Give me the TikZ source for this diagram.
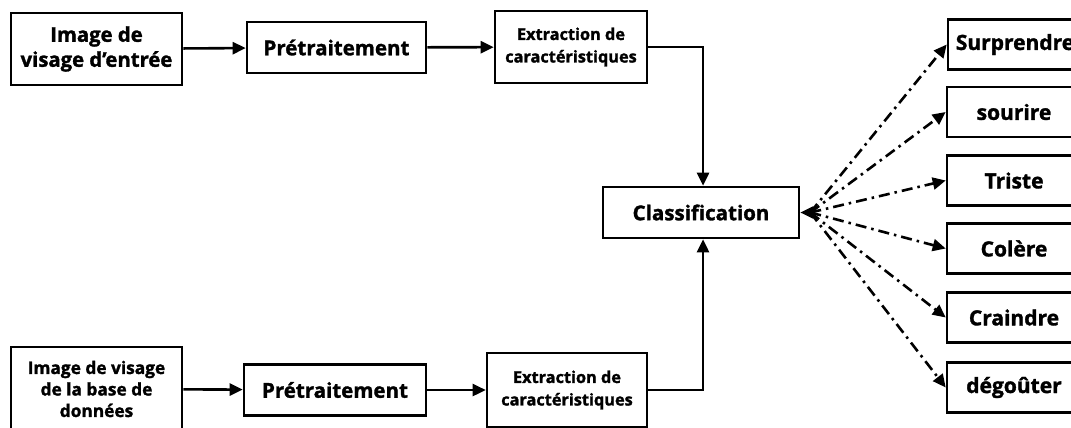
\documentclass[tikz,border=0pt]{standalone}
\usepackage{fontspec}
\setmainfont{Open Sans}[BoldFont={* Bold}, BoldFeatures={FakeBold=1.5}]
\usetikzlibrary{arrows.meta}
\begin{document}
\begin{tikzpicture}[x=1pt,y=-1pt,
  box/.style={draw=black, line width=2.6pt, rectangle, align=center, inner sep=0pt,
    font=\bfseries},
  flow/.style={line width=2.6pt, -{Triangle[length=13pt,width=12pt]}},
  fan/.style={line width=2.6pt, dash pattern=on 11pt off 5pt on 2.5pt off 5pt,
    -{Triangle[length=13pt,width=12pt]}}]
\useasboundingbox (0,0) rectangle (1071,428);
\clip (0,0) rectangle (1071,428);

% upper branch
\node[box, minimum width=171pt, minimum height=72pt,
  font=\fontsize{20.3}{25}\bfseries] (in1) at (96.5,49) {Image de\\visage d'entrée};
\node[box, minimum width=179pt, minimum height=51pt,
  font=\fontsize{20.5}{24}\bfseries] (pre1) at (336.5,47.5) {Prétraitement};
\node[box, minimum width=152pt, minimum height=72pt,
  font=\fontsize{16.3}{22.5}\bfseries] (ext1) at (571,47) {Extraction de\\caractéristiques};

% lower branch
\node[box, minimum width=171pt, minimum height=84pt,
  font=\fontsize{17.3}{21.5}\bfseries] (in2) at (96.5,389) {Image de visage\\de la base de\\données};
\node[box, minimum width=182pt, minimum height=51pt,
  font=\fontsize{20.5}{24}\bfseries] (pre2) at (335,390) {Prétraitement};
\node[box, minimum width=160pt, minimum height=74pt,
  font=\fontsize{16.3}{22.5}\bfseries] (ext2) at (567,390) {Extraction de\\caractéristiques};

% classifier
\node[box, minimum width=196pt, minimum height=51pt,
  font=\fontsize{20.5}{24}\bfseries] (cls) at (701,212.5) {Classification};

% emotion classes
\tikzset{emo/.style={box, minimum width=134pt, minimum height=50pt,
  font=\fontsize{21}{24}\bfseries}}
\node[emo] (e1) at (1015,44.5) {Surprendre};
\node[emo] (e2) at (1014,112) {sourire};
\node[emo] (e3) at (1014,180.5) {Triste};
\node[emo] (e4) at (1014,248.5) {Colère};
\node[emo] (e5) at (1014,317.5) {Craindre};
\node[emo] (e6) at (1014,387.5) {dégoûter};

% main flow
\draw[flow] (in1) -- (pre1);
\draw[flow] (pre1) -- (ext1);
\draw[flow] (ext1.east) -| ([xshift=2pt]cls.north);
\draw[flow] (in2) -- (pre2);
\draw[flow] (pre2) -- (ext2);
\draw[flow] (ext2.east) -| ([xshift=2pt]cls.south);

% fan-out to the classes
\coordinate (hub) at ([xshift=10pt]cls.east);
\draw[flow] (hub) -- (cls.east);
\foreach \e in {e1,e2,e3,e4,e5,e6}
  \draw[fan] (hub) -- (\e.west);
\end{tikzpicture}
\end{document}
